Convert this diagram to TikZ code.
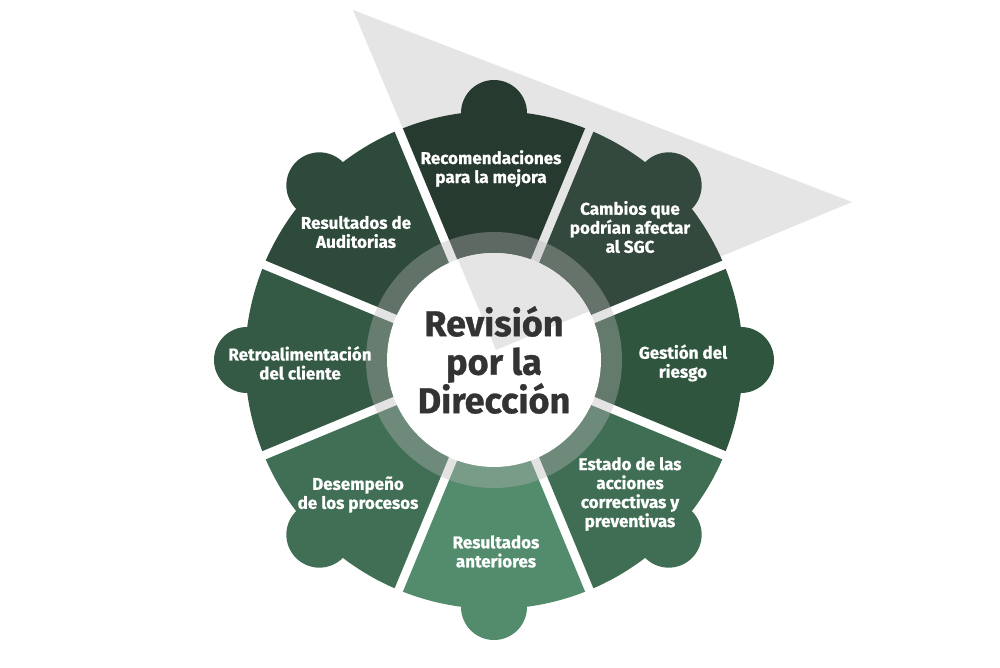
\documentclass[tikz,border=0pt]{standalone}
\usepackage{fontspec}
\setmainfont{Fira Sans}[BoldFeatures={FakeBold=0.8}]
\definecolor{trigc}{HTML}{E5E5E5}
\definecolor{ringc}{HTML}{B8B8B8}
\definecolor{titlec}{HTML}{333333}
\definecolor{cA}{HTML}{273A2F}
\definecolor{cB}{HTML}{34493D}
\definecolor{cC}{HTML}{30553F}
\definecolor{cD}{HTML}{3F6E54}
\definecolor{cE}{HTML}{528C6C}
\definecolor{cF}{HTML}{416F56}
\definecolor{cG}{HTML}{345A45}
\definecolor{cH}{HTML}{2D4A3A}
\begin{document}
\begin{tikzpicture}[x=1pt,y=1pt,
  lbl/.style={text=white, align=center, inner sep=0pt,
    font=\fontsize{17}{19}\selectfont\bfseries},
  ttl/.style={text=titlec, align=center, inner sep=0pt,
    font=\fontsize{36}{38.5}\selectfont\bfseries}]
\useasboundingbox (0,0) rectangle (1000,667);
\fill[white] (0,0) rectangle (1000,667);
% grey triangle behind the wheel
\fill[trigc] (353,657) -- (852,465) -- (496,317) -- cycle;
\begin{scope}[shift={(494,307)}]
  \foreach \a/\c in {90/cA,45/cB,0/cC,-45/cD,-90/cE,-135/cF,180/cG,135/cH}{
    \fill[\c] (\a:11.76) -- (\a-21.47:249)
      arc[start angle=\a-21.47, end angle=\a+21.47, radius=249] -- cycle;
    \fill[\c] (\a:247) circle[radius=33];
  }
  % translucent ring
  \fill[ringc, opacity=0.38, even odd rule]
    (0,0) circle[radius=128] (0,0) circle[radius=107];
  % white centre
  \fill[white] (0,0) circle[radius=107];
  \begin{scope}
    \clip (0,0) circle[radius=107];
    \fill[trigc] (-141,350) -- (358,158) -- (2,10) -- cycle;
  \end{scope}
\end{scope}
% labels
\node[lbl] (rec) at (491,498.5) {Recomendaciones\\para la mejora};
\node[lbl] (camb) at (630,440) {Cambios que\\podrían afectar\\al SGC};
\node[lbl] (gest) at (683,304) {Gestión del\\riesgo};
\node[lbl] (est) at (630,173) {Estado de las\\acciones\\correctivas y\\preventivas};
\node[lbl] (resant) at (496,115.5) {Resultados\\anteriores};
\node[lbl] (desem) at (358,172.5) {Desempeño\\de los procesos};
\node[lbl] (retro) at (300,304) {Retroalimentación\\del cliente};
\node[lbl] (audit) at (356,435) {Resultados de\\Auditorias};
\node[ttl] (title) at (494,307) {Revisión\\por la\\Dirección};
\end{tikzpicture}
\end{document}
